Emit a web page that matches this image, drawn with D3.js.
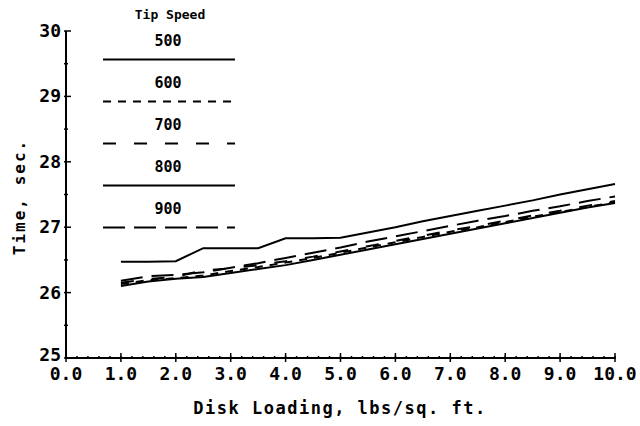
<!DOCTYPE html>
<html>
<head>
<meta charset="utf-8">
<script src="https://cdn.jsdelivr.net/npm/d3@7"></script>
<style>
  body { margin: 0; background: #fff; }
  svg text { font-family: "DejaVu Sans Mono", monospace; font-weight: bold; fill: #000; }
</style>
</head>
<body>
<div id="chart"></div>
<script>
var width = 640,
    height = 426;

// disk loading values (lbs/sq. ft.)
var loading = [1.0, 1.5, 2.0, 2.5, 3.0, 3.5, 4.0, 4.5, 5.0, 5.5, 6.0, 6.5, 7.0, 7.5, 8.0, 8.5, 9.0, 9.5, 10.0];
var tipSpeeds = ["500", "600", "700", "800", "900"];
var time500 = [26.47, 26.47, 26.48, 26.68, 26.68, 26.68, 26.83, 26.83, 26.84, 26.92, 27.00, 27.09, 27.17, 27.25, 27.33, 27.41, 27.50, 27.58, 27.66];
var time600 = [26.13, 26.19, 26.22, 26.26, 26.33, 26.39, 26.46, 26.53, 26.61, 26.69, 26.77, 26.85, 26.93, 27.00, 27.08, 27.16, 27.23, 27.31, 27.38];
var time700 = [26.15, 26.21, 26.24, 26.34, 26.37, 26.42, 26.48, 26.55, 26.63, 26.71, 26.79, 26.87, 26.95, 27.02, 27.10, 27.18, 27.25, 27.33, 27.40];
var time800 = [26.10, 26.17, 26.21, 26.24, 26.30, 26.36, 26.42, 26.50, 26.58, 26.66, 26.74, 26.82, 26.90, 26.98, 27.06, 27.14, 27.22, 27.30, 27.37];
var time900 = [26.18, 26.25, 26.27, 26.31, 26.38, 26.45, 26.53, 26.61, 26.69, 26.78, 26.86, 26.94, 27.02, 27.10, 27.17, 27.25, 27.32, 27.40, 27.47];
var xTicks = [0, 1, 2, 3, 4, 5, 6, 7, 8, 9, 10];
var yTicks = [25, 26, 27, 28, 29, 30];

var series = [
    {name: tipSpeeds[0], values: time500, dash: null},
    {name: tipSpeeds[1], values: time600, dash: "8,7"},
    {name: tipSpeeds[2], values: time700, dash: "13,18"},
    {name: tipSpeeds[3], values: time800, dash: null},
    {name: tipSpeeds[4], values: time900, dash: "22,9"}
];

var svg = d3.select("#chart")
        .append("svg")
        .attr("width", width)
        .attr("height", height);

var x = d3.scaleLinear().domain([0, 10]).range([66, 615]),
    y = d3.scaleLinear().domain([25, 30]).range([358, 31]);

// x axis: major ticks crossing the line, minor ones every 0.2
var xAxis = svg.append("g").attr("transform", "translate(0," + y(25) + ")");
xAxis.append("line")
    .attr("x1", x(0)).attr("x2", x(10))
    .attr("stroke", "#000").attr("stroke-width", 2);
xAxis.selectAll(".minor")
    .data(d3.range(0, 10.001, 0.2))
    .enter().append("line")
    .attr("x1", function(d) { return x(d); })
    .attr("x2", function(d) { return x(d); })
    .attr("y1", -2).attr("y2", 1)
    .attr("stroke", "#000").attr("stroke-width", 1.5);
xAxis.selectAll(".major")
    .data(xTicks)
    .enter().append("line")
    .attr("x1", function(d) { return x(d); })
    .attr("x2", function(d) { return x(d); })
    .attr("y1", -5).attr("y2", 4)
    .attr("stroke", "#000").attr("stroke-width", 1.5);
xAxis.selectAll("text")
    .data(xTicks)
    .enter().append("text")
    .attr("x", function(d) { return x(d); })
    .attr("y", 22)
    .attr("text-anchor", "middle")
    .style("font-size", "18px")
    .text(function(d) { return d3.format(".1f")(d); });

// y axis
var yAxis = svg.append("g").attr("transform", "translate(" + x(0) + ",0)");
yAxis.append("line")
    .attr("y1", y(25)).attr("y2", y(30))
    .attr("stroke", "#000").attr("stroke-width", 2);
yAxis.selectAll(".minor")
    .data(d3.range(25.5, 30, 1))
    .enter().append("line")
    .attr("y1", function(d) { return y(d); })
    .attr("y2", function(d) { return y(d); })
    .attr("x1", -2).attr("x2", 2)
    .attr("stroke", "#000").attr("stroke-width", 1.5);
yAxis.selectAll(".major")
    .data(yTicks)
    .enter().append("line")
    .attr("y1", function(d) { return y(d); })
    .attr("y2", function(d) { return y(d); })
    .attr("x1", -2).attr("x2", 5)
    .attr("stroke", "#000").attr("stroke-width", 1.5);
yAxis.selectAll("text")
    .data(yTicks)
    .enter().append("text")
    .attr("x", -5)
    .attr("y", function(d) { return y(d) + (d == 25 ? 3 : 6); })
    .attr("text-anchor", "end")
    .style("font-size", "18px")
    .text(function(d) { return d; });

// axis titles
svg.append("text")
    .attr("transform", "translate(25,197) rotate(-90)")
    .attr("text-anchor", "middle")
    .style("font-size", "16px")
    .style("letter-spacing", "2px")
    .text("Time, sec.");
svg.append("text")
    .attr("x", 340)
    .attr("y", 414)
    .attr("text-anchor", "middle")
    .style("font-size", "17px")
    .style("letter-spacing", "1.5px")
    .text("Disk Loading, lbs/sq. ft.");

// data lines
var line = d3.line()
    .x(function(d, i) { return x(loading[i]); })
    .y(function(d) { return y(d); });
svg.selectAll(".series")
    .data(series)
    .enter().append("path")
    .attr("class", "series")
    .attr("d", function(s) { return line(s.values); })
    .attr("fill", "none")
    .attr("stroke", "#000")
    .attr("stroke-width", 2)
    .attr("stroke-dasharray", function(s) { return s.dash; });

// legend
var legend = svg.append("g");
legend.append("text")
    .attr("x", 170).attr("y", 19)
    .attr("text-anchor", "middle")
    .style("font-size", "13px")
    .text("Tip Speed");
var legendRow = legend.selectAll(".row")
    .data(series)
    .enter().append("g")
    .attr("transform", function(s, i) { return "translate(0," + (i * 42) + ")"; });
legendRow.append("text")
    .attr("x", 168).attr("y", 46)
    .attr("text-anchor", "middle")
    .style("font-size", "15px")
    .text(function(s) { return s.name; });
legendRow.append("line")
    .attr("x1", 103).attr("x2", 235)
    .attr("y1", 59.5).attr("y2", 59.5)
    .attr("stroke", "#000")
    .attr("stroke-width", 2)
    .attr("stroke-dasharray", function(s) { return s.dash; });
</script>
</body>
</html>
